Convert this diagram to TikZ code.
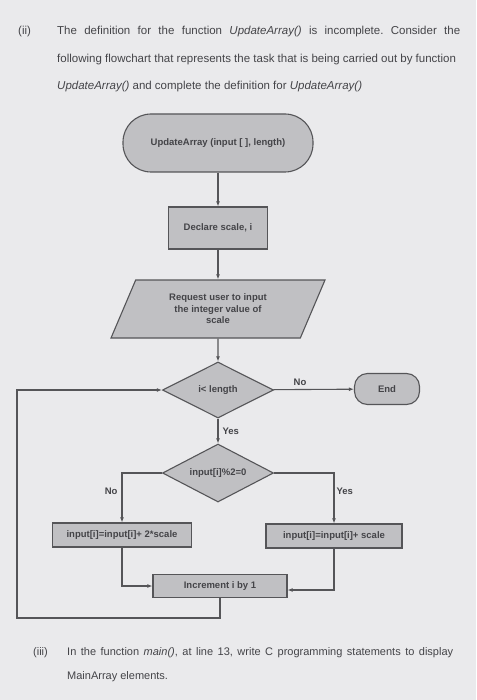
\documentclass[tikz,border=0pt]{standalone}
\usepackage{fontspec}
\setmainfont{Liberation Sans}
\usetikzlibrary{arrows.meta,positioning,shapes.geometric}
\frenchspacing
\definecolor{paper}{RGB}{234,234,236}
\definecolor{boxfill}{RGB}{192,192,195}
\definecolor{boxline}{RGB}{85,85,88}
\definecolor{inktext}{RGB}{68,68,72}
\tikzset{
  flow/.style={draw=boxline, line width=1.1pt, fill=boxfill, align=center,
               inner sep=2pt, text=inktext, font=\bfseries\fontsize{9.5}{11.5}\selectfont},
  procbox/.style={flow, rectangle, minimum height=24pt},
  termbox/.style={flow, rectangle},
  decide/.style={flow, diamond, aspect=2, minimum width=111pt, minimum height=56pt, inner sep=0pt},
  iobox/.style={flow, trapezium, trapezium left angle=54, trapezium right angle=126,
                trapezium stretches body, minimum width=214pt, minimum height=58pt},
  arrow/.style={-{Latex[length=1.8mm,width=1.4mm]}, line width=1.1pt, draw=boxline},
  lbl/.style={font=\bfseries\fontsize{9.5}{10}\selectfont, text=inktext, inner sep=0pt},
  para/.style={anchor=base west, inner sep=0pt, text=inktext,
               font=\fontsize{11.5}{13}\selectfont},
  subpara/.style={para, font=\fontsize{11}{13}\selectfont}
}
\begin{document}
\begin{tikzpicture}[x=1pt,y=-1pt]
  \useasboundingbox[fill=paper] (0,0) rectangle (476,700);
  \node[para] (qii) at (18,35) {(ii)};
  \node[para] (q1) at (57,35) {\makebox[403pt][s]{The definition for the function \textit{UpdateArray()} is incomplete. Consider the}};
  \node[para] (q2) at (57,63) {following flowchart that represents the task that is being carried out by function};
  \node[para] (q3) at (57,90) {\textit{UpdateArray()} and complete the definition for \textit{UpdateArray()}};

  \node[termbox, rounded corners=28pt, minimum width=190pt, minimum height=58pt] (start) at (218,143) {UpdateArray (input [ ], length)};
  \node[procbox, minimum width=99pt, minimum height=42pt] (decl) at (218,228) {Declare scale, i};
  \node[iobox] (ask) at (218,309) {Request user to input\\the integer value of\\scale};
  \node[decide] (loop) at (218,390) {i< length};
  \node[termbox, rounded corners=13pt, minimum width=65pt, minimum height=31pt] (stop) at (387,389) {End};
  \node[decide, minimum height=58pt] (even) at (218,473) {input[i]\%2=0};
  \node[procbox, minimum width=139pt] (addtwo) at (122,535) {input[i]=input[i]+ 2*scale};
  \node[procbox, minimum width=136pt] (addone) at (334,536) {input[i]=input[i]+ scale};
  \node[procbox, minimum width=134pt, minimum height=23pt] (inc) at (220,586) {Increment i by 1};
  \coordinate (back) at (17,618);

  \draw[arrow] (start) -- (decl);
  \draw[arrow] (decl) -- (ask);
  \draw[arrow] (ask) -- (loop);
  \draw[arrow] (loop) -- node[lbl, above=3pt, pos=.33] {No} (stop);
  \draw[arrow] (loop) -- node[lbl, right=4pt, pos=.5] {Yes} (even);
  \draw[arrow] (even) -| node[lbl, left=4pt, pos=.68] {No} (addtwo);
  \draw[arrow] (even) -| node[lbl, right=2pt, pos=.68] {Yes} (addone);
  \draw[arrow] (addtwo) |- (inc);
  \draw[arrow] (addone) |- ([yshift=-4pt]inc.east);
  \draw[arrow] (inc) |- (back) |- (loop);

  \node[subpara] (qiii) at (33,655) {(iii)};
  \node[subpara] (r1) at (67,655) {\makebox[386pt][s]{In the function \textit{main()}, at line 13, write C programming statements to display}};
  \node[subpara] (r2) at (67,679) {MainArray elements.};
\end{tikzpicture}
\end{document}
